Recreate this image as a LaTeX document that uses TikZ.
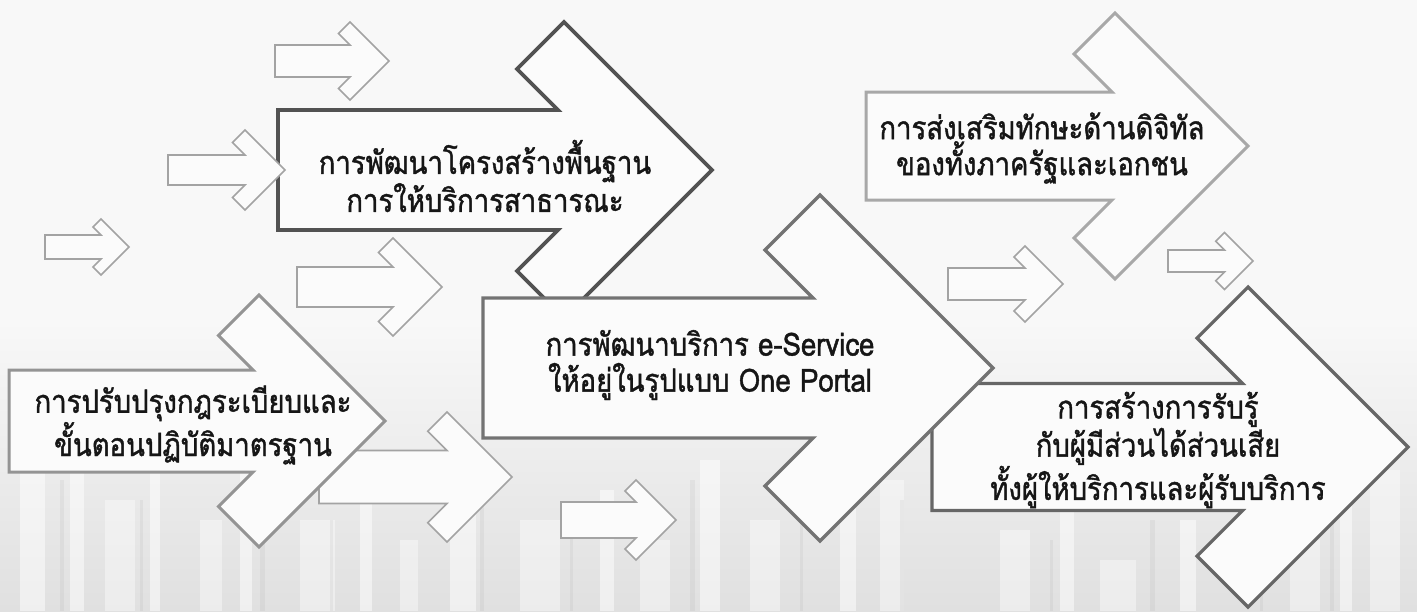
\documentclass[tikz,border=0pt]{standalone}
\usepackage{fontspec}
\newfontfamily\thaifont[Script=Thai,FakeStretch=0.86,FakeBold=1.3]{Loma}
\definecolor{bgtop}{HTML}{F8F8F8}
\definecolor{bgbot}{HTML}{E0E0E0}
\definecolor{txt}{HTML}{161616}
\definecolor{fillw}{HTML}{FBFBFB}
\newcommand\arrpath[6]{(#1,{#3-#5}) -- ({#2-#5-2*#6},{#3-#5}) -- ({#2-#4-#6},{#3-#4+#6}) -- ({#2-#4},{#3-#4}) -- (#2,#3) -- ({#2-#4},{#3+#4}) -- ({#2-#4-#6},{#3+#4-#6}) -- ({#2-#5-2*#6},{#3+#5}) -- (#1,{#3+#5}) -- cycle}
\newcommand\smallarr[5]{\arrpath{#1}{#2}{#3}{#4}{#5}{(#4-#5)/2}}
\tikzset{
  smallbox/.style={draw=black!36, line width=1.6pt, fill=fillw, line join=miter},
  bigbox/.style={fill=fillw, line join=miter},
  lbl/.style={font=\thaifont\fontsize{32}{36}\selectfont, text=txt, align=center, inner sep=0pt},
}
\begin{document}
\begin{tikzpicture}[x=1pt,y=-1pt]
\useasboundingbox (0,0) rectangle (1417,611);
% background
\fill[bgtop] (0,0) rectangle (1417,320);
\shade[top color=bgtop, bottom color=bgbot] (0,320) rectangle (1417,611);
\foreach \xa/\w/\yy/\op in {20/25/470/0.5, 70/14/430/0.5, 105/30/500/0.4, 150/10/460/0.5, 200/22/520/0.4, 240/12/450/0.5, 300/35/520/0.4, 360/12/480/0.5, 400/18/540/0.4, 450/26/470/0.5, 520/40/520/0.4, 600/14/490/0.5, 640/30/540/0.4, 700/20/460/0.5, 750/30/520/0.4, 840/16/500/0.5, 880/24/480/0.4, 1000/30/530/0.4, 1060/14/500/0.5, 1100/36/560/0.4, 1180/16/520/0.5, 1290/30/540/0.4, 1340/12/490/0.5, 1370/30/470/0.4}
  \fill[white, opacity=\op] (\xa,\yy) rectangle ++(\w,611-\yy);
\foreach \xa/\w/\yy in {60/4/480, 140/3/500, 260/5/470, 330/3/520, 480/4/500, 570/3/530, 690/5/480, 800/3/520, 900/4/500, 1050/3/540, 1150/5/520, 1260/3/500, 1330/4/480}
  \fill[black, opacity=0.04] (\xa,\yy) rectangle ++(\w,611-\yy);
% small arrows under the main ones
\path[smallbox] \smallarr{45}{129}{247}{28}{12};
\path[smallbox] \smallarr{275}{389}{61}{39}{16};
\path[smallbox] \smallarr{297}{442}{287}{49}{20};
\path[smallbox] \smallarr{319}{512}{477}{65}{26.5};
\path[smallbox] \smallarr{561}{676}{520}{40}{18};
\path[smallbox] \smallarr{948}{1063}{284}{38}{16};
\path[smallbox] \smallarr{1168}{1253}{261}{28.5}{11};
% main arrows
\path[bigbox, draw=black!34, line width=3pt] \arrpath{866}{1248}{146}{133}{54}{41};
\path[bigbox, draw=black!68, line width=3.6pt] \arrpath{278}{712}{170}{148}{60}{47};
\path[smallbox] \smallarr{168}{285}{170}{40}{15};
\path[bigbox, draw=black!42, line width=3pt] \arrpath{9}{385}{421}{126}{51}{40.5};
\path[bigbox, draw=black!60, line width=3.2pt] \arrpath{932}{1408}{447}{160}{63.5}{51};
\path[bigbox, draw=black!55, line width=3.4pt] \arrpath{483}{993}{368}{173}{70}{55};
% labels
\node[lbl] (t1) at (193,425) {การปรับปรุงกฎระเบียบและ\\ขั้นตอนปฏิบัติมาตรฐาน};
\node[lbl] (t2) at (485,176) {การพัฒนาโครงสร้างพื้นฐาน\\การให้บริการสาธารณะ};
\node[lbl] (t3) at (710,365) {การพัฒนาบริการ e-Service\\ให้อยู่ในรูปแบบ One Portal};
\node[lbl] (t4) at (1042,148) {การส่งเสริมทักษะด้านดิจิทัล\\ของทั้งภาครัฐและเอกชน};
\node[lbl] (t5) at (1158,450) {การสร้างการรับรู้\\กับผู้มีส่วนได้ส่วนเสีย\\ทั้งผู้ให้บริการและผู้รับบริการ};
\end{tikzpicture}
\end{document}
